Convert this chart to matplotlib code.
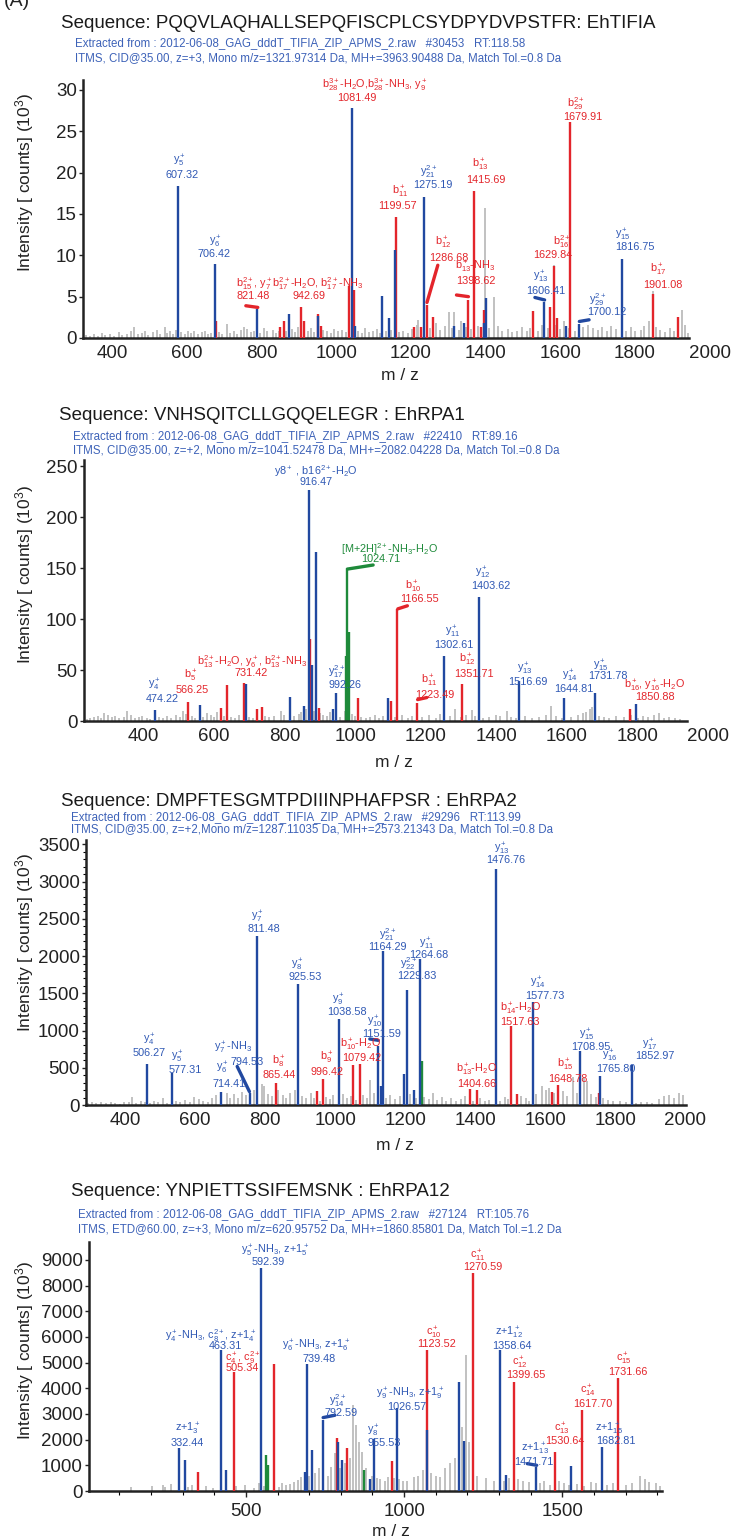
import matplotlib
matplotlib.use("Agg")
import matplotlib.pyplot as plt
from matplotlib.ticker import MultipleLocator

plt.rcParams['font.family'] = ['Liberation Sans', 'DejaVu Sans']
plt.rcParams['mathtext.fontset'] = 'custom'
plt.rcParams['mathtext.rm'] = 'Liberation Sans'
plt.rcParams['mathtext.it'] = 'Liberation Sans'
plt.rcParams['mathtext.default'] = 'regular'

W, H, DPI = 734, 1538, 100
BLUE, RED, GREEN, GRAY = '#2148a0', '#e3252b', '#1e8a3a', '#bcbcbc'
TBLUE, TRED, TGREEN = '#2f58b4', '#e3252b', '#1e8a3a'
SUBC = '#3d62b8'

# ---------------- Panel 1 : EhTIFIA ----------------
p1_title = "Sequence: PQQVLAQHALLSEPQFISCPLCSYDPYDVPSTFR: EhTIFIA"
p1_sub1 = "Extracted from : 2012-06-08_GAG_dddT_TIFIA_ZIP_APMS_2.raw   #30453   RT:118.58"
p1_sub2 = "ITMS, CID@35.00, z=+3, Mono m/z=1321.97314 Da, MH+=3963.90488 Da, Match Tol.=0.8 Da"
p1_xticks = [400, 600, 800, 1000, 1200, 1400, 1600, 1800, 2000]
p1_yticks = [0, 5, 10, 15, 20, 25, 30]
p1_blue_mz = [577, 675, 788, 873, 952, 1042, 1050, 1123, 1140, 1157, 1234, 1316, 1341, 1395, 1401, 1557, 1615, 1651, 1765]
p1_blue_h = [18.4, 8.9, 3.5, 2.9, 2.7, 27.8, 1.4, 5.1, 2.4, 10.7, 17.1, 1.5, 1.8, 1.8, 4.8, 4.4, 1.4, 1.7, 9.6]
p1_red_mz = [679, 849, 859, 906, 915, 950, 958, 1035, 1047, 1159, 1208, 1226, 1243, 1260, 1354, 1370, 1388, 1395, 1526, 1573, 1582, 1592, 1627, 1847, 1916]
p1_red_h = [2.1, 1.3, 2.0, 3.7, 2.1, 2.9, 1.4, 6.3, 5.8, 14.6, 1.3, 1.3, 4.0, 2.6, 4.6, 17.8, 1.3, 3.4, 3.3, 3.7, 8.7, 2.4, 26.1, 5.3, 2.5]
p1_gray_mz = [330, 342, 351, 363, 372, 381, 395, 404, 418, 427, 441, 450, 459, 468, 480, 489, 497, 510, 519, 527, 541, 548, 556, 563, 571, 585, 594, 603, 612, 620, 629, 640, 648, 657, 665, 685, 695, 707, 716, 726, 735, 744, 753, 762, 771, 780, 797, 806, 815, 830, 838, 846, 866, 882, 890, 898, 924, 933, 941, 965, 975, 985, 995, 1005, 1015, 1025, 1058, 1068, 1078, 1088, 1098, 1108, 1117, 1132, 1148, 1168, 1180, 1192, 1202, 1215, 1219, 1250, 1268, 1278, 1290, 1301, 1310, 1316, 1328, 1335, 1348, 1362, 1380, 1398, 1410, 1423, 1432, 1445, 1460, 1470, 1485, 1498, 1510, 1520, 1540, 1550, 1566, 1582, 1588, 1600, 1610, 1622, 1640, 1662, 1674, 1688, 1700, 1712, 1725, 1737, 1750, 1775, 1788, 1800, 1815, 1825, 1838, 1847, 1857, 1868, 1880, 1893, 1905, 1916, 1925, 1935, 1941]
p1_gray_h = [0.4, 0.3, 0.5, 0.3, 0.6, 0.4, 0.5, 0.3, 0.7, 0.4, 0.5, 0.8, 1.3, 0.5, 0.6, 0.9, 0.4, 0.7, 1.0, 0.5, 1.3, 0.6, 0.8, 0.5, 1.0, 0.7, 0.5, 0.9, 0.6, 0.8, 0.5, 0.7, 0.9, 0.5, 0.6, 0.7, 0.5, 1.7, 0.6, 0.8, 0.5, 1.0, 1.3, 1.1, 0.7, 0.9, 0.6, 1.2, 0.8, 1.0, 0.6, 0.9, 0.8, 1.1, 0.7, 1.3, 0.9, 1.2, 0.7, 1.0, 0.8, 0.6, 1.1, 0.8, 1.0, 0.7, 0.9, 0.6, 1.2, 0.7, 0.9, 1.1, 0.6, 0.8, 1.0, 0.7, 0.9, 0.6, 1.1, 1.6, 2.2, 1.2, 1.8, 1.0, 1.5, 3.1, 1.2, 3.1, 1.0, 2.0, 1.3, 1.1, 1.5, 15.7, 1.2, 4.9, 1.4, 0.9, 1.1, 0.7, 0.9, 1.3, 0.8, 1.2, 0.9, 1.6, 1.2, 8.8, 1.6, 1.1, 2.0, 1.2, 0.9, 1.3, 1.6, 1.2, 1.0, 1.3, 0.8, 1.4, 1.1, 0.9, 1.3, 0.8, 1.0, 1.4, 2.0, 5.7, 1.3, 1.0, 0.7, 1.2, 0.8, 1.6, 3.4, 1.6, 0.6]
p1_labels = [
    (r"b$_{28}^{3+}$-H$_2$O,b$_{28}^{3+}$-NH$_3$, y$_9^+$", 1104, 30.6, TRED),
    ("1081.49", 1055, 29.0, TRED),
    (r"b$_{29}^{2+}$", 1642, 28.4, TRED), ("1679.91", 1661, 26.7, TRED),
    (r"y$_5^+$", 579, 21.4, TBLUE), ("607.32", 586, 19.7, TBLUE),
    (r"y$_6^+$", 676, 11.6, TBLUE), ("706.42", 674, 10.1, TBLUE),
    (r"y$_{21}^{2+}$", 1247, 20.1, TBLUE), ("1275.19", 1260, 18.5, TBLUE),
    (r"b$_{11}^+$", 1172, 17.7, TRED), ("1199.57", 1163, 16.0, TRED),
    (r"b$_{13}^+$", 1385, 20.9, TRED), ("1415.69", 1401, 19.1, TRED),
    (r"b$_{12}^+$", 1285, 11.5, TRED), ("1286.68", 1301, 9.7, TRED),
    (r"b$_{15}^{2+}$, y$_7^+$b$_{17}^{2+}$-H$_2$O, b$_{17}^{2+}$-NH$_3$", 903, 6.6, TRED),
    ("821.48", 779, 5.1, TRED), ("942.69", 927, 5.1, TRED),
    (r"b$_{13}^+$-NH$_3$", 1373, 8.6, TRED), ("1398.62", 1375, 6.9, TRED),
    (r"y$_{13}^+$", 1548, 7.4, TBLUE), ("1606.41", 1561, 5.7, TBLUE),
    (r"b$_{16}^{2+}$", 1605, 11.7, TRED), ("1629.84", 1580, 10.0, TRED),
    (r"y$_{15}^+$", 1768, 12.5, TBLUE), ("1816.75", 1799, 11.0, TBLUE),
    (r"b$_{17}^+$", 1862, 8.2, TRED), ("1901.08", 1874, 6.4, TRED),
    (r"y$_{29}^{2+}$", 1699, 4.6, TBLUE), ("1700.12", 1724, 3.1, TBLUE),
]
p1_leaders = [((758, 790), (3.9, 3.7), RED), ((1243, 1272), (4.3, 8.8), RED),
              ((1322, 1354), (5.2, 5.0), RED), ((1532, 1558), (4.9, 4.6), BLUE),
              ((1651, 1677), (2.0, 2.2), BLUE)]

# ---------------- Panel 2 : EhRPA1 ----------------
p2_title = "Sequence: VNHSQITCLLGQQELEGR : EhRPA1"
p2_sub1 = "Extracted from : 2012-06-08_GAG_dddT_TIFIA_ZIP_APMS_2.raw   #22410   RT:89.16"
p2_sub2 = "ITMS, CID@35.00, z=+2, Mono m/z=1041.52478 Da, MH+=2082.04228 Da, Match Tol.=0.8 Da"
p2_xticks = [400, 600, 800, 1000, 1200, 1400, 1600, 1800, 2000]
p2_yticks = [0, 50, 100, 150, 200, 250]
p2_blue_mz = [433, 561, 690, 816, 855, 870, 879, 889, 938, 946, 1094, 1253, 1351, 1465, 1592, 1679, 1796]
p2_blue_h = [11, 16, 36, 24, 15, 227, 55, 166, 12, 27, 23, 64, 122, 39, 23, 27, 17]
p2_red_mz = [526, 620, 638, 686, 721, 736, 871, 898, 1007, 1101, 1120, 1176, 1303, 1778]
p2_red_h = [19, 13, 35, 37, 12, 14, 80, 13, 23, 20, 110, 18, 36, 12]
p2_green_mz = [975, 978, 981, 984]
p2_green_h = [64, 148, 70, 87]
p2_gray_mz = [240, 250, 262, 272, 280, 290, 300, 311, 320, 332, 345, 355, 365, 376, 387, 398, 410, 420, 445, 457, 467, 480, 492, 505, 512, 520, 538, 548, 570, 582, 592, 600, 610, 628, 648, 660, 672, 700, 712, 745, 757, 770, 790, 800, 826, 840, 848, 862, 885, 900, 910, 920, 930, 958, 970, 990, 1000, 1018, 1030, 1042, 1055, 1068, 1080, 1112, 1132, 1150, 1162, 1190, 1210, 1228, 1240, 1268, 1283, 1300, 1315, 1332, 1340, 1362, 1380, 1398, 1410, 1429, 1440, 1455, 1480, 1500, 1520, 1540, 1555, 1570, 1585, 1612, 1630, 1645, 1655, 1665, 1671, 1690, 1705, 1720, 1740, 1760, 1780, 1800, 1815, 1830, 1845, 1860, 1875, 1890, 1905, 1920]
p2_gray_h = [2, 3, 4, 5, 3, 8, 6, 4, 5, 3, 4, 10, 6, 3, 4, 5, 3, 2, 4, 3, 5, 3, 6, 4, 10, 7, 5, 3, 4, 8, 6, 4, 9, 5, 4, 3, 6, 4, 3, 5, 4, 5, 10, 6, 5, 7, 9, 12, 10, 8, 6, 5, 9, 4, 10, 7, 5, 4, 3, 4, 6, 3, 5, 4, 6, 3, 5, 4, 6, 3, 7, 5, 12, 4, 6, 11, 5, 3, 4, 6, 5, 10, 4, 3, 5, 3, 4, 6, 15, 5, 3, 4, 6, 8, 9, 12, 14, 5, 4, 3, 5, 4, 6, 3, 5, 4, 6, 8, 3, 4, 3, 2]
p2_labels = [
    (r"y8$^+$ , b16$^{2+}$-H$_2$O", 889, 245, TBLUE), ("916.47", 889, 234, TBLUE),
    (r"[M+2H]$^{2+}$-NH$_3$-H$_2$O", 1097, 169, TGREEN), ("1024.71", 1073, 158.7, TGREEN),
    (r"b$_{10}^+$", 1164, 131.7, TRED), ("1166.55", 1183, 119.8, TRED),
    (r"y$_{12}^+$", 1363, 144.9, TBLUE), ("1403.62", 1383, 132.4, TBLUE),
    (r"y$_{11}^+$", 1276, 87.9, TBLUE), ("1302.61", 1280, 74.7, TBLUE),
    (r"b$_{12}^+$", 1316, 60.2, TRED), ("1351.71", 1336, 45.7, TRED),
    (r"b$_{11}^+$", 1210, 39.4, TRED), ("1223.49", 1227, 25.2, TRED),
    (r"y$_{13}^+$", 1482, 51.6, TBLUE), ("1516.69", 1489, 38.4, TBLUE),
    (r"y$_{14}^+$", 1608, 44.4, TBLUE), ("1644.81", 1618, 31.8, TBLUE),
    (r"y$_{15}^+$", 1695, 54.2, TBLUE), ("1731.78", 1715, 44.0, TBLUE),
    (r"b$_{16}^+$, y$_{16}^+$-H$_2$O", 1848, 34.5, TRED), ("1850.88", 1848, 23.6, TRED),
    (r"y$_{17}^{2+}$", 948, 48.3, TBLUE), ("992.26", 971, 35.1, TBLUE),
    (r"b$_{13}^{2+}$-H$_2$O, y$_6^+$, b$_{13}^{2+}$-NH$_3$", 708, 58.2, TRED), ("731.42", 705, 46.6, TRED),
    (r"b$_5^+$", 535, 44.4, TRED), ("566.25", 539, 30.2, TRED),
    (r"y$_4^+$", 431, 35.1, TBLUE), ("474.22", 453, 21.9, TBLUE),
]
p2_leaders = [((978, 1051), (149, 153), GREEN), ((1121, 1148), (110, 113), RED),
              ((1177, 1203), (21, 23), RED)]

# ---------------- Panel 3 : EhRPA2 ----------------
p3_title = "Sequence: DMPFTESGMTPDIIINPHAFPSR : EhRPA2"
p3_sub1 = "Extracted from : 2012-06-08_GAG_dddT_TIFIA_ZIP_APMS_2.raw   #29296   RT:113.99"
p3_sub2 = "ITMS, CID@35.00, z=+2,Mono m/z=1287.11035 Da, MH+=2573.21343 Da, Match Tol.=0.8 Da"
p3_xticks = [400, 600, 800, 1000, 1200, 1400, 1600, 1800, 2000]
p3_yticks = [0, 500, 1000, 1500, 2000, 2500, 3000, 3500]
p3_blue_mz = [462, 534, 675, 758, 776, 893, 1010, 1122, 1132, 1138, 1196, 1205, 1224, 1242, 1460, 1564, 1700, 1757, 1847]
p3_blue_h = [550, 430, 180, 165, 2265, 1620, 1160, 790, 250, 2070, 420, 1540, 200, 1960, 3170, 1390, 720, 390, 540]
p3_red_mz = [830, 948, 966, 1051, 1070, 1386, 1405, 1503, 1520, 1619, 1637, 1753]
p3_red_h = [300, 190, 350, 540, 550, 210, 200, 1060, 150, 180, 270, 160]
p3_green_mz = [1248]
p3_green_h = [590]
p3_gray_mz = [295, 305, 318, 330, 345, 360, 372, 385, 398, 410, 420, 432, 445, 458, 470, 482, 495, 508, 520, 545, 558, 570, 585, 598, 610, 622, 636, 648, 660, 690, 700, 712, 722, 735, 745, 768, 790, 797, 808, 820, 838, 850, 860, 872, 884, 905, 918, 930, 940, 958, 975, 985, 995, 1010, 1022, 1035, 1045, 1060, 1080, 1090, 1100, 1112, 1145, 1158, 1170, 1185, 1215, 1230, 1255, 1268, 1280, 1292, 1305, 1318, 1330, 1345, 1360, 1372, 1395, 1415, 1428, 1440, 1472, 1485, 1495, 1532, 1545, 1555, 1575, 1590, 1603, 1612, 1625, 1650, 1662, 1680, 1690, 1712, 1719, 1730, 1745, 1765, 1780, 1795, 1815, 1830, 1860, 1875, 1890, 1905, 1925, 1940, 1955, 1968, 1982, 1995]
p3_gray_h = [30, 40, 25, 35, 30, 45, 30, 20, 40, 35, 110, 30, 50, 35, 25, 60, 40, 90, 30, 50, 40, 70, 45, 110, 80, 60, 40, 90, 130, 160, 100, 150, 90, 180, 130, 200, 280, 250, 150, 120, 200, 130, 100, 160, 200, 120, 100, 160, 90, 60, 110, 80, 130, 900, 150, 90, 120, 70, 130, 90, 340, 160, 100, 140, 80, 120, 150, 100, 110, 80, 160, 70, 110, 60, 90, 50, 80, 120, 60, 90, 50, 70, 60, 110, 80, 120, 90, 60, 150, 250, 200, 230, 160, 190, 120, 380, 160, 360, 320, 150, 110, 90, 70, 60, 50, 40, 30, 40, 35, 30, 80, 120, 135, 100, 160, 140]
p3_labels = [
    (r"y$_{13}^+$", 1476, 3440, TBLUE), ("1476.76", 1486, 3290, TBLUE),
    (r"y$_7^+$", 777, 2525, TBLUE), ("811.48", 795, 2358, TBLUE),
    (r"y$_{21}^{2+}$", 1150, 2290, TBLUE), ("1164.29", 1150, 2123, TBLUE),
    (r"y$_{11}^+$", 1262, 2160, TBLUE), ("1264.68", 1268, 2012, TBLUE),
    (r"y$_8^+$", 893, 1888, TBLUE), ("925.53", 914, 1713, TBLUE),
    (r"y$_{22}^{2+}$", 1209, 1901, TBLUE), ("1229.83", 1233, 1736, TBLUE),
    (r"y$_9^+$", 1010, 1415, TBLUE), ("1038.58", 1035, 1254, TBLUE),
    (r"y$_{14}^+$", 1580, 1640, TBLUE), ("1577.73", 1599, 1466, TBLUE),
    (r"b$_{14}^+$-H$_2$O", 1529, 1294, TRED), ("1517.63", 1529, 1119, TRED),
    (r"y$_{10}^+$", 1113, 1123, TBLUE), ("1151.59", 1134, 953, TBLUE),
    (r"b$_{10}^+$-H$_2$O", 1073, 808, TRED), ("1079.42", 1077, 638, TRED),
    (r"b$_9^+$", 975, 628, TRED), ("996.42", 978, 444, TRED),
    (r"b$_8^+$", 840, 574, TRED), ("865.44", 840, 399, TRED),
    (r"y$_4^+$", 469, 875, TBLUE), ("506.27", 469, 692, TBLUE),
    (r"y$_5^+$", 549, 641, TBLUE), ("577.31", 572, 476, TBLUE),
    (r"y$_7^+$-NH$_3$", 709, 772, TBLUE), ("794.53", 749, 584, TBLUE),
    (r"y$_6^+$", 679, 497, TBLUE), ("714.41", 697, 278, TBLUE),
    (r"b$_{13}^+$-H$_2$O", 1405, 470, TRED), ("1404.66", 1405, 287, TRED),
    (r"b$_{15}^+$", 1656, 542, TRED), ("1648.78", 1666, 354, TRED),
    (r"y$_{15}^+$", 1718, 943, TBLUE), ("1708.95", 1731, 780, TBLUE),
    (r"y$_{16}^+$", 1784, 665, TBLUE), ("1765.80", 1801, 489, TBLUE),
    (r"y$_{17}^+$", 1898, 808, TBLUE), ("1852.97", 1912, 656, TBLUE),
]
p3_leaders = [((720, 755), (518, 180), BLUE), ((1099, 1123), (887, 869), BLUE)]

# ---------------- Panel 4 : EhRPA12 ----------------
p4_title = "Sequence: YNPIETTSSIFEMSNK : EhRPA12"
p4_sub1 = "Extracted from : 2012-06-08_GAG_dddT_TIFIA_ZIP_APMS_2.raw   #27124   RT:105.76"
p4_sub2 = "ITMS, ETD@60.00, z=+3, Mono m/z=620.95752 Da, MH+=1860.85801 Da, Match Tol.=1.2 Da"
p4_xticks = [500, 1000, 1500]
p4_yticks = [0, 1000, 2000, 3000, 4000, 5000, 6000, 7000, 8000, 9000]
p4_blue_mz = [290, 306, 420, 436, 547, 688, 693, 709, 744, 792, 804, 893, 906, 977, 1073, 1174, 1189, 1304, 1321, 1417, 1528, 1626]
p4_blue_h = [1660, 1200, 5510, 830, 8700, 740, 4960, 1590, 2780, 1900, 1200, 470, 2030, 3240, 2390, 4250, 1940, 5510, 640, 940, 960, 1720]
p4_red_mz = [349, 461, 590, 789, 819, 961, 1072, 1219, 1347, 1476, 1562, 1675]
p4_red_h = [740, 4640, 4960, 2070, 1680, 1160, 5490, 8480, 4250, 1510, 3150, 4410]
p4_green_mz = [562, 570, 873]
p4_green_h = [1390, 1000, 800]
p4_gray_mz = [137, 204, 238, 244, 262, 316, 330, 375, 395, 470, 498, 525, 540, 556, 605, 615, 628, 640, 652, 665, 675, 700, 718, 730, 759, 770, 780, 797, 812, 828, 838, 848, 856, 866, 880, 898, 915, 925, 940, 950, 968, 985, 995, 1010, 1030, 1045, 1060, 1085, 1100, 1112, 1130, 1145, 1160, 1182, 1196, 1205, 1230, 1260, 1285, 1315, 1330, 1360, 1375, 1395, 1430, 1441, 1460, 1490, 1505, 1520, 1545, 1570, 1590, 1605, 1640, 1660, 1700, 1720, 1744, 1760, 1775, 1796, 1808]
p4_gray_h = [150, 200, 250, 150, 280, 150, 250, 180, 120, 200, 250, 120, 300, 200, 150, 320, 250, 280, 350, 420, 550, 600, 700, 900, 600, 950, 1480, 900, 1100, 1300, 3340, 2560, 1910, 1500, 900, 600, 500, 450, 400, 550, 500, 450, 380, 400, 550, 600, 800, 700, 600, 550, 900, 1100, 1300, 2500, 5290, 1900, 600, 500, 400, 380, 500, 450, 380, 350, 300, 380, 250, 400, 300, 250, 280, 200, 350, 300, 250, 300, 250, 300, 600, 450, 350, 330, 200]
p4_labels = [
    (r"y$_5^+$-NH$_3$, z+1$_5^+$", 592, 9360, TBLUE), ("592.39", 571, 8910, TBLUE),
    (r"c$_{11}^+$", 1233, 9168, TRED), ("1270.59", 1248, 8718, TRED),
    (r"y$_4^+$-NH$_3$, c$_8^{2+}$, z+1$_4^+$", 389, 6072, TBLUE), ("463.31", 436, 5640, TBLUE),
    (r"c$_4^+$, c$_9^{2+}$", 492, 5200, TRED), ("505.34", 490, 4780, TRED),
    (r"y$_6^+$-NH$_3$, z+1$_6^+$", 722, 5656, TBLUE), ("739.48", 730, 5135, TBLUE),
    (r"c$_{10}^+$", 1093, 6176, TRED), ("1123.52", 1103, 5720, TRED),
    (r"z+1$_{12}^+$", 1330, 6150, TBLUE), ("1358.64", 1340, 5655, TBLUE),
    (r"c$_{12}^+$", 1367, 5006, TRED), ("1399.65", 1384, 4511, TRED),
    (r"c$_{15}^+$", 1693, 5136, TRED), ("1731.66", 1707, 4654, TRED),
    (r"c$_{14}^+$", 1581, 3901, TRED), ("1617.70", 1596, 3406, TRED),
    (r"y$_{14}^{2+}$", 789, 3511, TBLUE), ("792.59", 801, 3055, TBLUE),
    (r"y$_9^+$-NH$_3$, z+1$_9^+$", 1019, 3771, TBLUE), ("1026.57", 1008, 3276, TBLUE),
    (r"y$_8^+$", 903, 2341, TBLUE), ("955.53", 937, 1885, TBLUE),
    (r"z+1$_3^+$", 315, 2406, TBLUE), ("332.44", 315, 1885, TBLUE),
    (r"c$_{13}^+$", 1500, 2432, TRED), ("1530.64", 1507, 1950, TRED),
    (r"z+1$_{15}^+$", 1648, 2406, TBLUE), ("1682.81", 1670, 1950, TBLUE),
    (r"z+1$_{13}^+$", 1414, 1626, TBLUE), ("1471.71", 1411, 1144, TBLUE),
]
p4_leaders = [((744, 781), (2860, 2951), BLUE), ((1389, 1419), (1066, 1001), BLUE)]

fig = plt.figure(figsize=(W / DPI, H / DPI), dpi=DPI)


def add_ax(left, right, top, bottom):
    return fig.add_axes([left / W, 1 - bottom / H, (right - left) / W, (bottom - top) / H])


def ftext(x, y, s, **kw):
    fig.text(x / W, 1 - y / H, s, **kw)


def panel(box, xlim, xbound, ylim, xticks, yticks, gray, green, red, blue,
          labels, leaders, title, sub1, sub2, tpos, ylab_y, xlab_y, xlab_x):
    ax = add_ax(*box)
    ax.set_xlim(*xlim)
    ax.set_ylim(*ylim)
    ax.vlines(gray[0], 0, gray[1], color=GRAY, lw=1.3, zorder=1)
    if green:
        ax.vlines(green[0], 0, green[1], color=GREEN, lw=1.7, zorder=2)
    ax.vlines(red[0], 0, red[1], color=RED, lw=1.7, zorder=3)
    ax.vlines(blue[0], 0, blue[1], color=BLUE, lw=1.7, zorder=4)
    for (xs, ys, c) in leaders:
        ax.plot(xs, ys, color=c, lw=2.4, solid_capstyle='round', zorder=5)
    for (s, x, y, c) in labels:
        ax.text(x, y, s, ha='center', va='center', color=c, fontsize=7.8, zorder=6, clip_on=False)
    for side in ('top', 'right'):
        ax.spines[side].set_visible(False)
    for side in ('left', 'bottom'):
        ax.spines[side].set_linewidth(1.8)
        ax.spines[side].set_color('#222222')
    ax.spines['bottom'].set_bounds(*xbound)
    ax.set_xticks(xticks)
    ax.set_xticklabels([str(v) for v in xticks])
    ax.set_yticks(yticks)
    ax.set_yticklabels([str(v) for v in yticks])
    ax.tick_params(axis='x', length=0, pad=5, labelsize=13.5, colors='#222222')
    ax.tick_params(axis='y', length=3, width=1, pad=1.5, labelsize=13.5, colors='#222222')
    ftext(tpos[0], tpos[1], title, fontsize=13.5, color='#1a1a1a', va='center', ha='left')
    ftext(tpos[2], tpos[3], sub1, fontsize=8.3, color=SUBC, va='center', ha='left')
    ftext(tpos[2], tpos[4], sub2, fontsize=8.3, color=SUBC, va='center', ha='left')
    ftext(25, ylab_y, "Intensity [ counts] (10$^3$)", fontsize=12.5, rotation=90,
          va='center', ha='center', color='#222222')
    ftext(xlab_x, xlab_y, "m / z", fontsize=12.5, va='center', ha='center', color='#222222')
    return ax


ftext(4, 1, "(A)", fontsize=14, va='center', ha='left', color='#222222')

panel((83, 709.7, 80, 338), (322, 2000), (322, 1944), (0, 31.2), p1_xticks, p1_yticks,
      (p1_gray_mz, p1_gray_h), None, (p1_red_mz, p1_red_h), (p1_blue_mz, p1_blue_h),
      p1_labels, p1_leaders, p1_title, p1_sub1, p1_sub2, (61, 23, 75, 43, 58), 182, 376, 400)

panel((83.5, 708.3, 460, 721), (231, 2000), (231, 1940), (0, 256), p2_xticks, p2_yticks,
      (p2_gray_mz, p2_gray_h), (p2_green_mz, p2_green_h), (p2_red_mz, p2_red_h), (p2_blue_mz, p2_blue_h),
      p2_labels, p2_leaders, p2_title, p2_sub1, p2_sub2, (58.6, 416, 72.7, 436, 450), 574, 763, 394)

ax3 = panel((86, 685.5, 840, 1105), (288, 2001), (288, 2001), (0, 3560), p3_xticks, p3_yticks,
            (p3_gray_mz, p3_gray_h), (p3_green_mz, p3_green_h), (p3_red_mz, p3_red_h), (p3_blue_mz, p3_blue_h),
            p3_labels, p3_leaders, p3_title, p3_sub1, p3_sub2, (61, 801, 71.3, 817, 829), 942, 1145, 395)
ax3.yaxis.set_minor_locator(MultipleLocator(100))
ax3.tick_params(axis='y', which='minor', length=2, width=0.8)

ax4 = panel((89, 662, 1242, 1491), (4, 1815), (4, 1815), (0, 9700), p4_xticks, p4_yticks,
            (p4_gray_mz, p4_gray_h), (p4_green_mz, p4_green_h), (p4_red_mz, p4_red_h), (p4_blue_mz, p4_blue_h),
            p4_labels, p4_leaders, p4_title, p4_sub1, p4_sub2, (71, 1191, 78, 1214, 1229), 1350, 1532, 391)
ax4.xaxis.set_minor_locator(MultipleLocator(100))
ax4.tick_params(axis='x', which='major', length=4, width=1)
ax4.tick_params(axis='x', which='minor', length=3, width=0.8)

fig.savefig("out.png", dpi=DPI)
